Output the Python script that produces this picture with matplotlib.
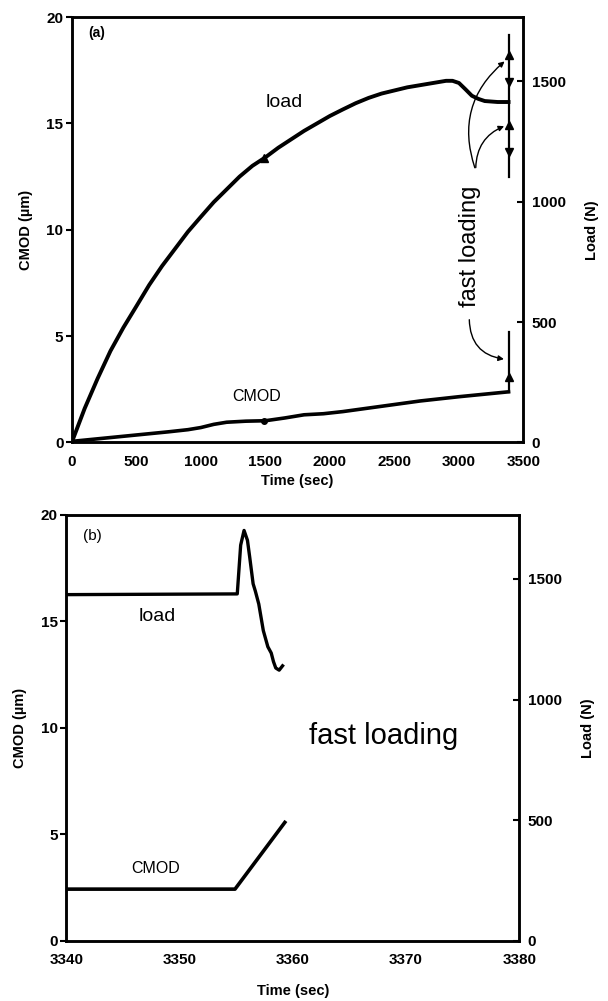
import matplotlib
matplotlib.use('Agg')
from matplotlib import pyplot as plt
import numpy as np

plt.rcParams['font.family'] = ['Liberation Sans', 'DejaVu Sans']

# panel (a): slow loading then fast loading at the end
time_a = [0, 100, 200, 300, 400, 500, 600, 700, 800, 900, 1000, 1100,
          1200, 1300, 1400, 1500, 1600, 1700, 1800, 1900, 2000, 2100,
          2200, 2300, 2400, 2500, 2600, 2700, 2800, 2900, 2950, 3000,
          3050, 3100, 3150, 3200, 3300, 3384]
load_a = [0, 141, 265, 380, 477, 565, 654, 733, 804, 875, 937, 998,
          1051, 1104, 1149, 1184, 1224, 1259, 1294, 1325, 1356, 1383,
          1409, 1431, 1449, 1462, 1475, 1484, 1493, 1502, 1502, 1493,
          1467, 1440, 1427, 1418, 1414, 1414]
cmod_time_a = [0, 250, 500, 750, 900, 1000, 1100, 1200, 1350, 1500, 1650,
               1800, 1950, 2100, 2400, 2700, 3000, 3384]
cmod_a = [0.05, 0.2, 0.35, 0.5, 0.6, 0.7, 0.85, 0.95, 1.0, 1.02, 1.15,
          1.3, 1.35, 1.45, 1.7, 1.95, 2.15, 2.38]
fast_t_a = 3384
fast_load_a = [1102, 1692]          # vertical load excursion (N)
fast_cmod_a = [2.38, 5.2]           # vertical CMOD excursion (um)
load_up_a = [1609, 1318]
load_dn_a = [1497, 1206]

# panel (b): zoom on fast loading
time_b = [3340, 3355.1, 3355.4, 3355.7, 3356.0, 3356.2, 3356.5, 3356.7,
          3357.0, 3357.4, 3357.8, 3358.1, 3358.3, 3358.5, 3358.8, 3359.1]
load_b = [1435, 1438, 1640, 1701, 1660, 1590, 1480, 1449,
          1396, 1286, 1219, 1193, 1157, 1131, 1122, 1140]
cmod_time_b = [3340, 3354.9, 3359.3]
cmod_b = [2.43, 2.43, 5.56]

LOAD_MAX = 1767
lab_font = dict(fontsize=10.5, fontweight='bold')

fig = plt.figure(figsize=(6.08, 10.01), dpi=100)
ax1 = fig.add_axes([0.118, 0.558, 0.743, 0.425])
ax2 = ax1.twinx()
ax3 = fig.add_axes([0.109, 0.060, 0.745, 0.426])
ax4 = ax3.twinx()

for ax in (ax1, ax2, ax3, ax4):
    for s in ax.spines.values():
        s.set_linewidth(1.8)

# ---- panel (a)
ax1.plot(cmod_time_a, cmod_a, color='k', lw=2.6)
ax1.plot([fast_t_a, fast_t_a], fast_cmod_a, color='k', lw=1.6)
ax1.plot([fast_t_a], [3.1], marker='^', color='k', ms=6)
ax1.plot([1489], [1.01], marker='o', color='k', ms=4)
ax2.plot(time_a, load_a, color='k', lw=2.8)
ax2.plot([fast_t_a, fast_t_a], fast_load_a, color='k', lw=1.6)
ax2.plot([fast_t_a] * 2, load_up_a, ls='none', marker='^', color='k', ms=6)
ax2.plot([fast_t_a] * 2, load_dn_a, ls='none', marker='v', color='k', ms=6)
ax2.plot([1489], [1180], marker='^', color='k', ms=6)

ax1.set_xlim(0, 3500)
ax1.set_ylim(0, 20)
ax2.set_ylim(0, LOAD_MAX)
ax1.set_xticks(np.arange(0, 3501, 500))
ax1.set_yticks([0, 5, 10, 15, 20])
ax2.set_yticks([0, 500, 1000, 1500])
ax1.set_xlabel('Time (sec)', labelpad=4, **lab_font)
ax1.set_ylabel('CMOD (\u00b5m)', labelpad=10, **lab_font)
ax2.set_ylabel('Load (N)', labelpad=14, **lab_font)

ax1.text(130, 19.6, '(a)', fontsize=10, fontweight='bold', va='top')
ax1.text(1650, 16.0, 'load', fontsize=14, ha='center', va='center')
ax1.text(1430, 2.15, 'CMOD', fontsize=11.5, ha='center', va='center')
ax1.text(3085, 9.2, 'fast loading', fontsize=17, rotation=90,
         ha='center', va='center')
arc = dict(arrowstyle='-|>', color='k', lw=1, mutation_scale=8)
ax2.annotate('', xy=(3370, 1590), xytext=(3130, 1130),
             arrowprops=dict(connectionstyle='arc3,rad=-0.35', **arc))
ax2.annotate('', xy=(3370, 1318), xytext=(3130, 1130),
             arrowprops=dict(connectionstyle='arc3,rad=-0.35', **arc))
ax1.annotate('', xy=(3370, 3.9), xytext=(3080, 5.9),
             arrowprops=dict(connectionstyle='arc3,rad=0.45', **arc))

# ---- panel (b)
ax3.plot(cmod_time_b, cmod_b, color='k', lw=2.6)
ax4.plot(time_b, load_b, color='k', lw=2.4)
ax3.set_xlim(3340, 3380)
ax3.set_ylim(0, 20)
ax4.set_ylim(0, LOAD_MAX)
ax3.set_xticks([3340, 3350, 3360, 3370, 3380])
ax3.set_yticks([0, 5, 10, 15, 20])
ax4.set_yticks([0, 500, 1000, 1500])
ax3.set_xlabel('Time (sec)', labelpad=12, **lab_font)
ax3.set_ylabel('CMOD (\u00b5m)', labelpad=10, **lab_font)
ax4.set_ylabel('Load (N)', labelpad=14, **lab_font)

ax3.text(3341.5, 19.3, '(b)', fontsize=11, va='top')
ax3.text(3348.0, 15.2, 'load', fontsize=14, ha='center', va='center')
ax3.text(3347.9, 3.4, 'CMOD', fontsize=11.5, ha='center', va='center')
ax3.text(3368.0, 9.6, 'fast loading', fontsize=21, ha='center',
         va='center')

for ax in (ax1, ax3):
    ax.tick_params(axis='y', direction='out', length=4, width=1.5, pad=2)
    ax.tick_params(axis='x', direction='in', length=0, pad=9)
    for lbl in ax.get_xticklabels() + ax.get_yticklabels():
        lbl.set_fontsize(11)
        lbl.set_fontweight('bold')
for ax in (ax2, ax4):
    ax.tick_params(axis='y', direction='in', length=4, width=1.5, pad=6)
    for lbl in ax.get_yticklabels():
        lbl.set_fontsize(11)
        lbl.set_fontweight('bold')

fig.savefig('out.png', dpi=100)
